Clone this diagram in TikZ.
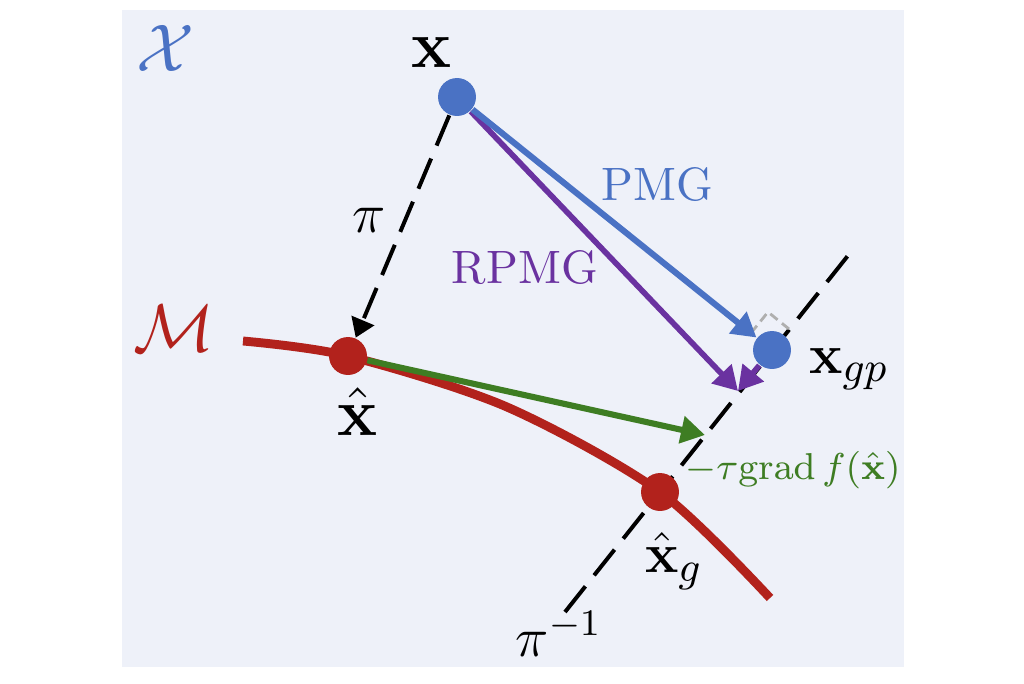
\documentclass[tikz,border=0pt]{standalone}
\usepackage{amsmath}
\usepackage{amssymb}
\usetikzlibrary{arrows.meta}
\definecolor{bgpanel}{RGB}{238,241,249}
\definecolor{pmgblue}{RGB}{74,114,196}
\definecolor{rpmgpurple}{RGB}{106,50,160}
\definecolor{manired}{RGB}{178,34,28}
\definecolor{gradgreen}{RGB}{62,125,35}
\definecolor{markgray}{RGB}{175,175,175}
\tikzset{
	ptdot/.style={circle, fill=#1, draw=none, inner sep=0pt, minimum size=0.285cm},
	vecarrow/.style={-{Triangle[length=0.18cm,width=0.2cm]}, line width=1.3pt},
	maparrow/.style={-{Triangle[length=0.14cm,width=0.18cm]}, line width=0.85pt, dash pattern=on 7pt off 3pt},
	mapline/.style={line width=0.85pt, dash pattern=on 7pt off 3pt},
	biglabel/.style={font=\Large, inner sep=0pt},
	sublabel/.style={font=\fontsize{13}{15}\selectfont, inner sep=0pt},
	txtlabel/.style={font=\normalsize, inner sep=0pt},
	pilabel/.style={font=\fontsize{11.5}{14}\selectfont, inner sep=0pt}
}

\begin{document}
\begin{tikzpicture}[x=0.0075cm, y=-0.0075cm]

	\useasboundingbox (0,0) rectangle (1024,683);
	\fill[bgpanel] (122,10) rectangle (904,667);

	\coordinate (c0) at (243,341);
	\coordinate (xhc) at (348,356);
	\coordinate (c1) at (507,407);
	\coordinate (xgc) at (660,492);
	\coordinate (c2) at (770,598);

	\coordinate (l0) at (565,612);
	\coordinate (l1) at (850,253);
	\coordinate (tgt) at (738,391);
	\coordinate (gtip) at (705,435);

	\draw[manired, line width=1.9pt] plot[smooth] coordinates {(c0) (xhc) (c1) (xgc) (c2)};
	\draw[mapline] (l0) -- (l1);
	\draw[markgray, line width=0.6pt, dash pattern=on 2pt off 1.2pt] (751,333) -- (768,312) -- (789,329);

	\node[ptdot=pmgblue] (x) at (457,97) {};
	\node[ptdot=manired] (xh) at (xhc) {};
	\node[ptdot=manired] (xg) at (xgc) {};
	\node[ptdot=pmgblue] (xgp) at (772,350) {};

	\draw[maparrow] (x) -- (xh);
	\draw[vecarrow, gradgreen] (xh) -- (gtip);
	\draw[vecarrow, rpmgpurple, line width=1.2pt] (x) -- (tgt);
	\draw[vecarrow, pmgblue] (x) -- (xgp);
	\draw[vecarrow, rpmgpurple, line width=1.2pt] (xgp) -- (tgt);

	\node[biglabel, pmgblue] (spaceX) at (165,48) {$\mathcal{X}$};
	\node[biglabel, manired] (spaceM) at (174,328) {$\mathcal{M}$};
	\node[biglabel] (xlbl) at (432,53) {$\mathbf{x}$};
	\node[biglabel] (xhlbl) at (358,412) {$\hat{\mathbf{x}}$};
	\node[sublabel] (xglbl) at (674,561) {$\hat{\mathbf{x}}_g$};
	\node[sublabel] (xgplbl) at (849,369) {$\mathbf{x}_{gp}$};
	\node[pilabel] (pilbl) at (369,220) {$\pi$};
	\node[pilabel] (piinvlbl) at (559,634) {$\pi^{-1}$};
	\node[txtlabel, pmgblue] (pmglbl) at (657,185) {PMG};
	\node[txtlabel, rpmgpurple] (rpmglbl) at (525,268) {RPMG};
	\node[inner sep=0pt, gradgreen, font=\fontsize{8.3}{10}\selectfont] (gradlbl) at (793,470) {$-\tau\mathrm{grad}\,f(\hat{\mathbf{x}})$};

\end{tikzpicture}
\end{document}
